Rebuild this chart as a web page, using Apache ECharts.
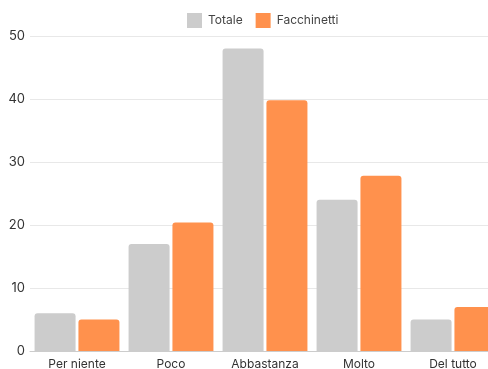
<!DOCTYPE html>
<html>
<head>
<meta charset="utf-8">
<script src="https://cdn.jsdelivr.net/npm/echarts@6/dist/echarts.min.js"></script>
<style>
  html, body { margin: 0; padding: 0; background: #fff; }
  #chart { width: 488px; height: 369px; }
</style>
</head>
<body>
<div id="chart"></div>
<script>
// Response categories and percentages per group
const categories = ['Per niente', 'Poco', 'Abbastanza', 'Molto', 'Del tutto'];
const totale = [6, 17, 48, 24, 5];
const facchinetti = [5, 20.4, 39.8, 27.8, 7];
const seriesNames = ['Totale', 'Facchinetti'];

const chart = echarts.init(document.getElementById('chart'), null, { renderer: 'canvas' });
const font = 'Inter, "Noto Sans", sans-serif';

chart.setOption({
  animation: false,
  textStyle: { fontFamily: font },
  legend: {
    data: seriesNames,
    top: 13,
    left: 187,
    padding: 0,
    itemWidth: 15,
    itemHeight: 15,
    itemGap: 13,
    icon: 'rect',
    textStyle: { fontFamily: font, fontSize: 12, color: '#444', padding: [0, 0, 0, 1] }
  },
  // plot area runs past the right edge, so the last bar is clipped
  grid: {
    left: 30, width: 470, top: 36, bottom: 18,
    containLabel: false, outerBoundsMode: 'none'
  },
  xAxis: {
    type: 'category',
    data: categories,
    axisLine: { lineStyle: { color: '#cccccc', width: 1 } },
    axisTick: { show: false },
    axisLabel: { fontFamily: font, fontSize: 12, color: '#333', margin: 7 }
  },
  yAxis: {
    type: 'value',
    min: 0,
    max: 50,
    interval: 10,
    axisLine: { show: false },
    axisTick: { show: false },
    axisLabel: { fontFamily: font, fontSize: 13, color: '#333', margin: 5 },
    splitLine: { lineStyle: { color: '#e8e8e8', width: 1 } }
  },
  series: [
    {
      name: seriesNames[0],
      type: 'bar',
      data: totale,
      barWidth: 41,
      barGap: '7%',
      itemStyle: { color: '#cccccc', borderRadius: [3, 3, 0, 0] }
    },
    {
      name: seriesNames[1],
      type: 'bar',
      data: facchinetti,
      barWidth: 41,
      barGap: '7%',
      itemStyle: { color: '#ff914d', borderRadius: [3, 3, 0, 0] }
    }
  ]
});
</script>
</body>
</html>
